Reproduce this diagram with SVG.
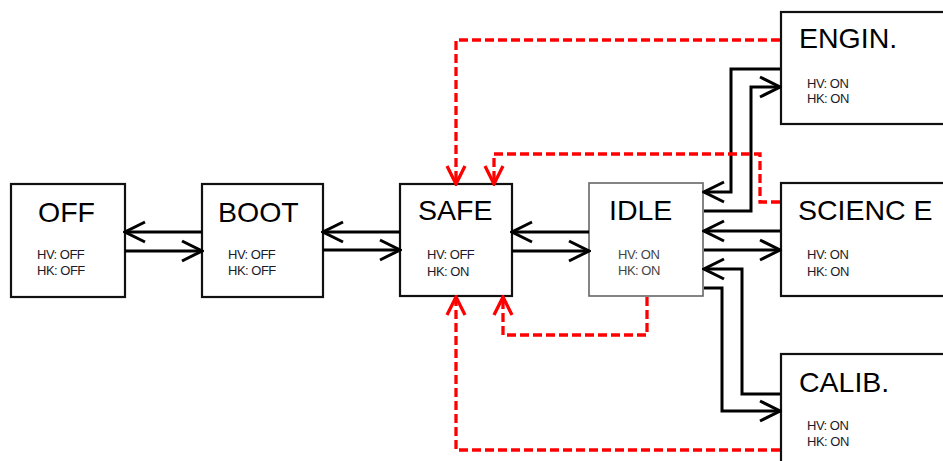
<svg xmlns="http://www.w3.org/2000/svg" width="943" height="461" viewBox="0 0 943 461">
<style>
.box{fill:#fff;stroke:#111;stroke-width:2.2}
.box2{fill:#fff;stroke:#666;stroke-width:1.6}
.t{font-family:"Liberation Sans",Arial,sans-serif;font-size:28.5px;fill:#000}
.s{font-family:"Liberation Sans",Arial,sans-serif;font-size:13px;fill:#1a1a2a;letter-spacing:-0.5px}
.g{fill:#444}
.c{fill:none;stroke:#000;stroke-width:3;marker-end:url(#ab)}
.r{fill:none;stroke:#ff0000;stroke-width:3.3;stroke-dasharray:9 4;marker-end:url(#ar)}
</style>
<defs>
<marker id="ab" markerUnits="userSpaceOnUse" viewBox="-22 -12 24 24" refX="0" refY="0" markerWidth="24" markerHeight="24" orient="auto">
<path d="M-20,-10 L0,0 L-20,10" fill="none" stroke="#000" stroke-width="3"/>
</marker>
<marker id="ar" markerUnits="userSpaceOnUse" viewBox="-22 -12 24 24" refX="0" refY="0" markerWidth="24" markerHeight="24" orient="auto">
<path d="M-18,-9 L0,0 L-18,9" fill="none" stroke="#ff0000" stroke-width="3.3" stroke-dasharray="none"/>
</marker>
</defs>
<g id="OFF"><rect class="box" x="11" y="184" width="114" height="113"/><text class="t" x="38" y="222">OFF</text><text class="s" x="37" y="259">HV: OFF</text><text class="s" x="37" y="275">HK: OFF</text></g>
<g id="BOOT"><rect class="box" x="202" y="184" width="121" height="113"/><text class="t" x="218" y="222">BOOT</text><text class="s" x="228" y="259">HV: OFF</text><text class="s" x="228" y="275">HK: OFF</text></g>
<g id="SAFE"><rect class="box" x="400" y="184" width="112" height="112"/><text class="t" x="418" y="220">SAFE</text><text class="s" x="427" y="259">HV: OFF</text><text class="s" x="427" y="276">HK: ON</text></g>
<g id="IDLE"><rect class="box2" x="589" y="183" width="114" height="113"/><text class="t" x="609" y="220" fill="#111">IDLE</text><text class="s g" x="618" y="259">HV: ON</text><text class="s g" x="618" y="275">HK: ON</text></g>
<g id="ENGIN"><rect class="box" x="781" y="12" width="200" height="112"/><text class="t" x="799" y="48">ENGIN.</text><text class="s" x="807" y="88">HV: ON</text><text class="s" x="807" y="103">HK: ON</text></g>
<g id="SCIENCE"><rect class="box" x="781" y="183" width="200" height="113"/><text class="t" x="798" y="220">SCIENC E</text><text class="s" x="807" y="259">HV: ON</text><text class="s" x="807" y="276">HK: ON</text></g>
<g id="CALIB"><rect class="box" x="781" y="354" width="200" height="130"/><text class="t" x="799" y="392">CALIB.</text><text class="s" x="807" y="430">HV: ON</text><text class="s" x="807" y="446">HK: ON</text></g>
<g id="connectors">
<path class="c" d="M202,232 H125"/>
<path class="c" d="M125,251 H202"/>
<path class="c" d="M400,232 H323"/>
<path class="c" d="M323,250 H400"/>
<path class="c" d="M589,232 H512"/>
<path class="c" d="M512,251 H589"/>
<path class="c" d="M780,69 H731 V192 H704"/>
<path class="c" d="M704,211 H751 V87 H780"/>
<path class="c" d="M780,231 H704"/>
<path class="c" d="M704,250 H780"/>
<path class="c" d="M780,394 H742 V269 H704"/>
<path class="c" d="M704,288 H722 V411 H780"/>
<path class="r" d="M780,40 H456 V184"/>
<path class="r" d="M780,202 H760 V154 H494 V184"/>
<path class="r" d="M647,297 V335 H503 V297"/>
<path class="r" d="M780,450 H456 V297"/>
</g>
</svg>
